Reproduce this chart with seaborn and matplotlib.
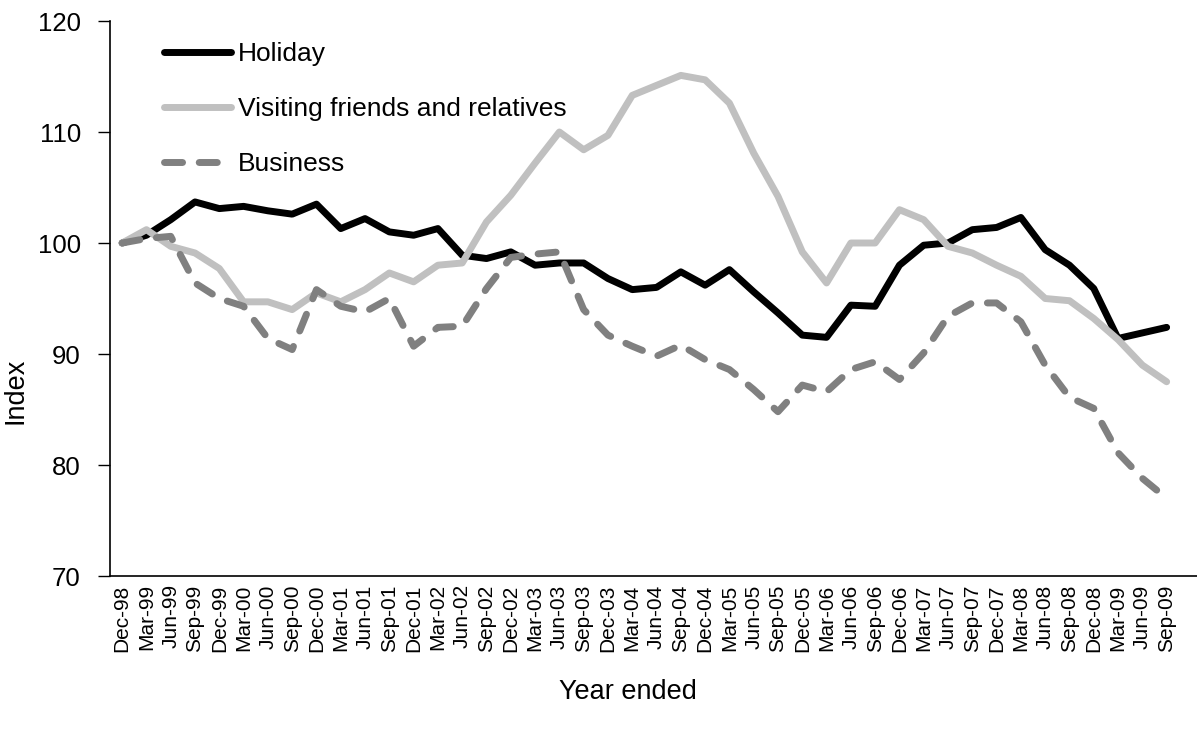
import pandas as pd
import matplotlib
matplotlib.use("Agg")
import matplotlib.pyplot as plt
import seaborn as sns

# quarters (year ended)
quarters = ['Dec-98', 'Mar-99', 'Jun-99', 'Sep-99', 'Dec-99', 'Mar-00', 'Jun-00', 'Sep-00',
            'Dec-00', 'Mar-01', 'Jun-01', 'Sep-01', 'Dec-01', 'Mar-02', 'Jun-02', 'Sep-02',
            'Dec-02', 'Mar-03', 'Jun-03', 'Sep-03', 'Dec-03', 'Mar-04', 'Jun-04', 'Sep-04',
            'Dec-04', 'Mar-05', 'Jun-05', 'Sep-05', 'Dec-05', 'Mar-06', 'Jun-06', 'Sep-06',
            'Dec-06', 'Mar-07', 'Jun-07', 'Sep-07', 'Dec-07', 'Mar-08', 'Jun-08', 'Sep-08',
            'Dec-08', 'Mar-09', 'Jun-09', 'Sep-09']

holiday = [100.0, 100.7, 102.1, 103.7, 103.1, 103.3, 102.9, 102.6, 103.5, 101.3,
           102.2, 101.0, 100.7, 101.3, 98.9, 98.6, 99.2, 98.0, 98.2, 98.2,
           96.8, 95.8, 96.0, 97.4, 96.2, 97.6, 95.6, 93.7, 91.7, 91.5,
           94.4, 94.3, 98.0, 99.8, 100.0, 101.2, 101.4, 102.3, 99.4, 98.0,
           95.9, 91.4, 91.9, 92.4]

vfr = [100.0, 101.2, 99.7, 99.1, 97.7, 94.7, 94.7, 94.0, 95.5, 94.7,
       95.8, 97.3, 96.5, 98.0, 98.2, 101.9, 104.3, 107.2, 110.0, 108.4,
       109.7, 113.3, 114.2, 115.1, 114.7, 112.6, 108.1, 104.2, 99.2, 96.4,
       100.0, 100.0, 103.0, 102.1, 99.7, 99.1, 98.0, 97.0, 95.0, 94.8,
       93.2, 91.3, 89.0, 87.5]

business = [100.0, 100.4, 100.6, 96.4, 95.0, 94.3, 91.4, 90.4, 95.8, 94.3,
            93.8, 95.0, 90.7, 92.4, 92.5, 95.9, 98.7, 99.0, 99.2, 94.0,
            91.7, 90.7, 89.8, 90.8, 89.5, 88.6, 86.8, 84.8, 87.2, 86.6,
            88.6, 89.3, 87.7, 90.1, 93.4, 94.6, 94.6, 92.9, 89.0, 86.1,
            85.1, 81.1, 78.8, 77.0]

series_names = ['Holiday', 'Visiting friends and relatives', 'Business']
series_colors = ['#000000', '#c0c0c0', '#808080']

df = pd.DataFrame({'pos': range(len(quarters)),
                   'Holiday': holiday,
                   'Visiting friends and relatives': vfr,
                   'Business': business})
df_long = df.melt(id_vars='pos', var_name='series', value_name='index')

sns.set_style('white')
plt.rcParams['font.family'] = ['Liberation Sans', 'DejaVu Sans']
plt.rcParams['text.color'] = 'black'
plt.rcParams['axes.labelcolor'] = 'black'
plt.rcParams['xtick.color'] = 'black'
plt.rcParams['ytick.color'] = 'black'

LW = 5.0

fig = plt.figure(figsize=(11.97, 7.36), dpi=100)
ax = fig.add_axes([110 / 1197, 160 / 736, 1087 / 1197, 555 / 736])

sns.lineplot(data=df_long, x='pos', y='index', hue='series', style='series',
             hue_order=series_names, style_order=series_names,
             palette=series_colors,
             dashes={'Holiday': '', 'Visiting friends and relatives': '', 'Business': (2.6, 2.4)},
             linewidth=LW, ax=ax, legend=True)

for line in ax.lines:
    line.set_solid_capstyle('round')
    line.set_dash_capstyle('round')
    line.set_solid_joinstyle('round')

# axis limits (Excel style, categories between tick marks)
ax.set_xlim(-0.5, 44.25)
ax.set_ylim(70, 120)
ax.set_yticks([70, 80, 90, 100, 110, 120])

ax.set_xticks(range(len(quarters)))
ax.set_xticklabels(quarters, rotation=90, fontsize=15)
ax.tick_params(axis='x', which='major', length=0, pad=6, labelcolor='black')
ax.set_xticks([i - 0.5 for i in range(0, 43, 3)], minor=True)
ax.tick_params(axis='x', which='minor', length=7, width=1.2, color='#999999', direction='out')
ax.tick_params(axis='y', labelsize=18.5, length=9, width=1, color='black', direction='out',
               pad=12, left=True, labelcolor='black')

for side in ['top', 'right']:
    ax.spines[side].set_visible(False)
for side in ['left', 'bottom']:
    ax.spines[side].set_color('black')
    ax.spines[side].set_linewidth(1.2)

ax.set_xlabel('Year ended', fontsize=19.5, color='black')
ax.set_ylabel('Index', fontsize=19.5, color='black')
ax.xaxis.set_label_coords(0.4766, -0.185)
ax.yaxis.set_label_coords(-0.075, 0.333)

handles, labels = ax.get_legend_handles_labels()
for h in handles:
    h.set_linewidth(LW)
    h.set_dash_capstyle('round')
    h.set_solid_capstyle('round')
leg = ax.legend(handles, labels, loc='upper left', frameon=False, fontsize=19,
                bbox_to_anchor=(164 / 1197, (736 - 42) / 736), bbox_transform=fig.transFigure,
                borderpad=0, borderaxespad=0, handlelength=2.55, handletextpad=0.25,
                labelspacing=1.18)
for t in leg.get_texts():
    t.set_color('black')

fig.savefig('out.png', dpi=100)
